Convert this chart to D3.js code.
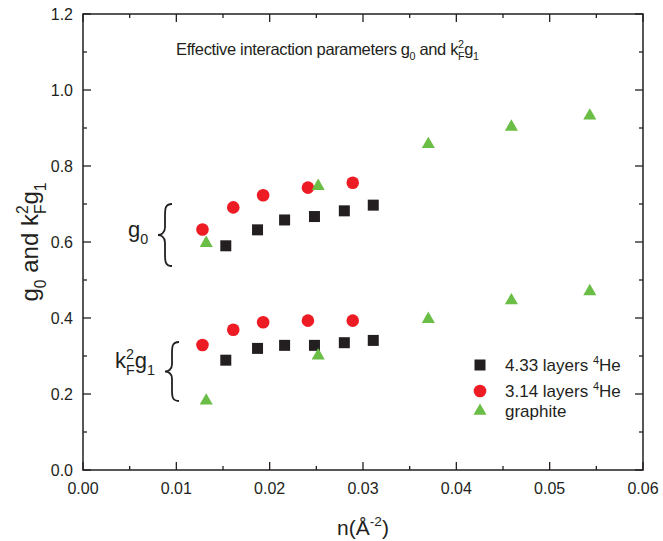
<!DOCTYPE html>
<html>
<head>
<meta charset="utf-8">
<script src="https://cdn.jsdelivr.net/npm/d3@7"></script>
<style>
  body { margin: 0; background: #fff; }
  text { font-family: "Liberation Sans", Arial, sans-serif; fill: #231f20; white-space: pre; }
</style>
</head>
<body>
<div class="chart"></div>
<script>
var width = 663, height = 541;
var margin = { top: 14, right: 20, bottom: 71, left: 83 };

// data
var n_433 = [0.0153, 0.0187, 0.0216, 0.0248, 0.0280, 0.0311];
var g0_433 = [0.590, 0.632, 0.658, 0.667, 0.682, 0.697];
var g1_433 = [0.289, 0.320, 0.328, 0.328, 0.335, 0.341];

var n_314 = [0.0128, 0.0161, 0.0193, 0.0241, 0.0289];
var g0_314 = [0.633, 0.691, 0.723, 0.743, 0.756];
var g1_314 = [0.329, 0.369, 0.389, 0.393, 0.393];

var n_graph = [0.0132, 0.0252, 0.0370, 0.0459, 0.0543];
var g0_graph = [0.597, 0.747, 0.857, 0.903, 0.932];
var g1_graph = [0.182, 0.301, 0.397, 0.446, 0.470];

var x_ticks = [0, 0.01, 0.02, 0.03, 0.04, 0.05, 0.06];
var y_ticks = [0, 0.2, 0.4, 0.6, 0.8, 1.0, 1.2];

var series = [
    { label: "4.33 layers ", sup: "4", tail: "He", shape: "square", color: "#231f20", n: n_433, g0: g0_433, g1: g1_433 },
    { label: "3.14 layers ", sup: "4", tail: "He", shape: "circle", color: "#ed1c24", n: n_314, g0: g0_314, g1: g1_314 },
    { label: "graphite", sup: "", tail: "", shape: "triangle", color: "#6abd45", n: n_graph, g0: g0_graph, g1: g1_graph }
];

var svg = d3.select(".chart").append("svg")
    .attr("width", width)
    .attr("height", height);

var x = d3.scaleLinear().domain([0, 0.06]).range([margin.left, width - margin.right]);
var y = d3.scaleLinear().domain([0, 1.2]).range([height - margin.bottom, margin.top]);

var x0 = margin.left, x1 = width - margin.right;
var y0 = height - margin.bottom, y1 = margin.top;

// minor ticks at half steps
var x_minor = d3.range(0.005, 0.06, 0.01);
var y_minor = d3.range(0.1, 1.2, 0.2);

var axis_col = "#231f20";
var axes = svg.append("g");

function tickLines(sel, vals, len, side) {
    vals.forEach(function(v){
        var l;
        if (side == "bottom") l = [x(v), y0, x(v), y0 - len];
        if (side == "top") l = [x(v), y1, x(v), y1 + len];
        if (side == "left") l = [x0, y(v), x0 + len, y(v)];
        if (side == "right") l = [x1, y(v), x1 - len, y(v)];
        sel.append("line")
            .attr("x1", l[0]).attr("y1", l[1]).attr("x2", l[2]).attr("y2", l[3])
            .attr("stroke", axis_col).attr("stroke-width", 1.3);
    });
}
["bottom", "top"].forEach(function(s){
    tickLines(axes, x_ticks, 8, s);
    tickLines(axes, x_minor, 4, s);
});
["left", "right"].forEach(function(s){
    tickLines(axes, y_ticks, 8, s);
    tickLines(axes, y_minor, 4, s);
});

axes.append("rect")
    .attr("x", x0).attr("y", y1)
    .attr("width", x1 - x0).attr("height", y0 - y1)
    .attr("fill", "none").attr("stroke", axis_col).attr("stroke-width", 1.5);

axes.selectAll(".xl").data(x_ticks).enter().append("text")
    .attr("x", d => x(d)).attr("y", y0 + 24)
    .attr("text-anchor", "middle").attr("font-size", 16)
    .text(d => d3.format(".2f")(d));

axes.selectAll(".yl").data(y_ticks).enter().append("text")
    .attr("x", x0 - 10).attr("y", d => y(d) + 6)
    .attr("text-anchor", "end").attr("font-size", 16)
    .text(d => d3.format(".1f")(d));

// rich text with sub / sup, runs laid out one after another
function richText(parent, px, py, runs, size, anchor, rot, spacing) {
    var g = parent.append("g").attr("transform", "translate(" + px + "," + py + ")" + (rot ? " rotate(" + rot + ")" : ""));
    var inner = g.append("g");
    var cx = 0, last_x = 0;
    runs.forEach(function(r){
        var fs = r.s ? size * 0.65 : size;
        var dy = r.s == "sub" ? size * 0.32 : (r.s == "sup" ? -size * 0.42 : 0);
        var start = r.stack ? last_x : cx;
        var t = inner.append("text")
            .attr("x", start).attr("y", dy)
            .attr("font-size", fs)
            .attr("letter-spacing", spacing || 0)
            .attr("xml:space", "preserve")
            .text(r.t);
        var w = t.node().getComputedTextLength();
        if (!r.stack) { last_x = cx; cx = start + w; }
        else { cx = Math.max(cx, start + w); }
    });
    if (anchor == "middle") inner.attr("transform", "translate(" + (-cx / 2) + ",0)");
    return g;
}

// title
richText(svg, 176, 55, [
    { t: "Effective interaction parameters g" }, { t: "0", s: "sub" },
    { t: " and k" }, { t: "2", s: "sup" }, { t: "F", s: "sub", stack: true },
    { t: "g" }, { t: "1", s: "sub" }
], 16.5, "start", 0, -0.35);

// axis titles
richText(svg, 38, (y0 + y1) / 2, [
    { t: "g" }, { t: "0", s: "sub" }, { t: " and k" },
    { t: "2", s: "sup" }, { t: "F", s: "sub", stack: true },
    { t: "g" }, { t: "1", s: "sub" }
], 24, "middle", -90);

richText(svg, (x0 + x1) / 2, 535, [
    { t: "n(Å" }, { t: "-2", s: "sup" }, { t: ")" }
], 21, "middle");

// brace annotations
function bracePath(tx, ya, yb, w) {
    var ym = (ya + yb) / 2, h = yb - ya, xm = tx + w * 0.5;
    return "M" + (tx + w) + "," + ya +
        " C" + xm + "," + ya + " " + xm + "," + (ya + h * 0.08) + " " + xm + "," + (ya + h * 0.2) +
        " L" + xm + "," + (ym - h * 0.12) +
        " C" + xm + "," + (ym - h * 0.03) + " " + (tx + w * 0.2) + "," + ym + " " + tx + "," + ym +
        " C" + (tx + w * 0.2) + "," + ym + " " + xm + "," + (ym + h * 0.03) + " " + xm + "," + (ym + h * 0.12) +
        " L" + xm + "," + (yb - h * 0.2) +
        " C" + xm + "," + (yb - h * 0.08) + " " + xm + "," + yb + " " + (tx + w) + "," + yb;
}
svg.append("path").attr("d", bracePath(158, 204, 266, 14))
    .attr("fill", "none").attr("stroke", axis_col).attr("stroke-width", 1.8);
svg.append("path").attr("d", bracePath(165, 342, 401, 14))
    .attr("fill", "none").attr("stroke", axis_col).attr("stroke-width", 1.8);

richText(svg, 128, 237, [{ t: "g" }, { t: "0", s: "sub" }], 22, "start");
richText(svg, 115, 368, [
    { t: "k" }, { t: "2", s: "sup" }, { t: "F", s: "sub", stack: true },
    { t: "g" }, { t: "1", s: "sub" }
], 22, "start");

// markers
function symbolFor(shape) {
    if (shape == "square") return d3.symbol().type(d3.symbolSquare).size(121);
    if (shape == "circle") return d3.symbol().type(d3.symbolCircle).size(Math.PI * 6.3 * 6.3);
    return d3.symbol().type(d3.symbolTriangle).size(74);
}

var marks = svg.append("g");
series.forEach(function(s){
    var pts = [];
    s.n.forEach(function(v, i){
        pts.push({ n: v, g: s.g0[i] });
        pts.push({ n: v, g: s.g1[i] });
    });
    marks.append("g").selectAll("path")
        .data(pts).enter().append("path")
        .attr("d", symbolFor(s.shape)())
        .attr("transform", d => "translate(" + x(d.n) + "," + y(d.g) + ")")
        .attr("fill", s.color);
});

// legend
var leg_rows = [365, 391, 411];
var legend = svg.append("g");
series.forEach(function(s, i){
    legend.append("path")
        .attr("d", symbolFor(s.shape)())
        .attr("transform", "translate(480," + leg_rows[i] + ")")
        .attr("fill", s.color);
    var runs = [{ t: s.label }];
    if (s.sup) { runs.push({ t: s.sup, s: "sup" }); runs.push({ t: s.tail }); }
    richText(legend, 505, leg_rows[i] + 6, runs, 17, "start");
});
</script>
</body>
</html>
